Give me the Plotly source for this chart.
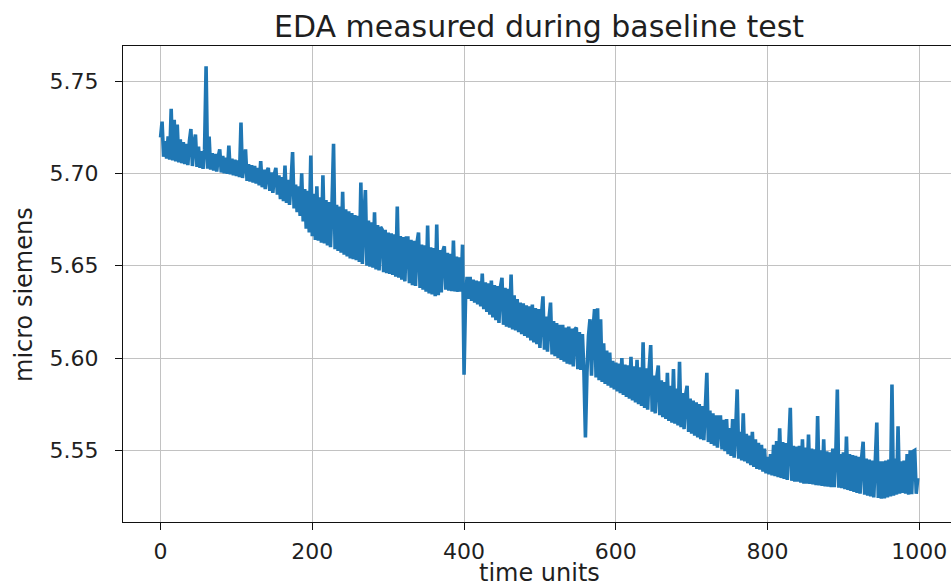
import plotly.graph_objects as go

# ---- data: EDA (micro siemens), one value every 2 time units ----
time_step = 2
eda_000 = [5.7195, 5.7280, 5.7090, 5.7175, 5.7080, 5.7200, 5.7075, 5.7350, 5.7070, 5.7290,
           5.7065, 5.7265, 5.7060, 5.7185, 5.7055, 5.7170, 5.7050, 5.7160, 5.7045, 5.7175,
           5.7240, 5.7040, 5.7165, 5.7210, 5.7035]
eda_050 = [5.7145, 5.7030, 5.7120, 5.7025, 5.7130, 5.7580, 5.7025, 5.7200, 5.7020, 5.7110,
           5.7015, 5.7105, 5.7010, 5.7090, 5.7130, 5.7005, 5.7095, 5.7000, 5.7085, 5.6998,
           5.7150, 5.6995, 5.7080, 5.6990, 5.7075]
eda_100 = [5.6985, 5.7070, 5.6980, 5.7275, 5.6975, 5.7060, 5.7130, 5.6960, 5.7050, 5.6955,
           5.7045, 5.6950, 5.7040, 5.6945, 5.7030, 5.6935, 5.7066, 5.6925, 5.7020, 5.6915,
           5.7010, 5.7030, 5.6905, 5.7005, 5.6895]
eda_150 = [5.6995, 5.7030, 5.6885, 5.6990, 5.6860, 5.6980, 5.6850, 5.7043, 5.6840, 5.6965,
           5.6830, 5.6955, 5.7115, 5.6810, 5.6940, 5.6790, 5.6930, 5.6770, 5.7000, 5.6740,
           5.6915, 5.6700, 5.6905, 5.6680, 5.7097]
eda_200 = [5.6660, 5.6890, 5.6640, 5.6930, 5.6635, 5.6870, 5.6625, 5.6990, 5.6620, 5.6855,
           5.6610, 5.6845, 5.6600, 5.6840, 5.7160, 5.6590, 5.6830, 5.6580, 5.6820, 5.6570,
           5.6900, 5.6560, 5.6805, 5.6550, 5.6795]
eda_250 = [5.6540, 5.6785, 5.6535, 5.6775, 5.6530, 5.6770, 5.6520, 5.6950, 5.6510, 5.6760,
           5.6910, 5.6500, 5.6745, 5.6495, 5.6735, 5.6490, 5.6790, 5.6480, 5.6720, 5.6475,
           5.6710, 5.6696, 5.6465, 5.6695, 5.6460]
eda_300 = [5.6680, 5.6455, 5.6675, 5.6450, 5.6670, 5.6440, 5.6820, 5.6435, 5.6660, 5.6425,
           5.6655, 5.6415, 5.6650, 5.6650, 5.6405, 5.6640, 5.6395, 5.6635, 5.6390, 5.6625,
           5.6680, 5.6380, 5.6615, 5.6370, 5.6610]
eda_350 = [5.6360, 5.6718, 5.6350, 5.6600, 5.6345, 5.6595, 5.6335, 5.6723, 5.6340, 5.6585,
           5.6355, 5.6580, 5.6605, 5.6370, 5.6570, 5.6365, 5.6565, 5.6362, 5.6636, 5.6360,
           5.6550, 5.6358, 5.6545, 5.6360, 5.6614]
eda_400 = [5.5910, 5.6330, 5.6440, 5.6320, 5.6440, 5.6310, 5.6425, 5.6300, 5.6420, 5.6290,
           5.6415, 5.6280, 5.6457, 5.6265, 5.6410, 5.6250, 5.6405, 5.6235, 5.6420, 5.6220,
           5.6395, 5.6205, 5.6390, 5.6190, 5.6385]
eda_450 = [5.6435, 5.6180, 5.6380, 5.6170, 5.6375, 5.6165, 5.6452, 5.6155, 5.6340, 5.6150,
           5.6320, 5.6140, 5.6300, 5.6130, 5.6296, 5.6120, 5.6285, 5.6110, 5.6280, 5.6095,
           5.6290, 5.6085, 5.6270, 5.6075, 5.6265]
eda_500 = [5.6055, 5.6230, 5.6334, 5.6045, 5.6225, 5.6035, 5.6215, 5.6300, 5.6020, 5.6200,
           5.6010, 5.6190, 5.6000, 5.6180, 5.5990, 5.6180, 5.5980, 5.6165, 5.5970, 5.6170,
           5.5965, 5.6160, 5.5955, 5.6155, 5.6165]
eda_550 = [5.5940, 5.6140, 5.5935, 5.6130, 5.5925, 5.5570, 5.5920, 5.6120, 5.6210, 5.5905,
           5.6150, 5.6265, 5.5895, 5.6270, 5.5880, 5.6210, 5.5870, 5.6080, 5.5860, 5.6040,
           5.5850, 5.6030, 5.5840, 5.5985, 5.5830]
eda_600 = [5.5975, 5.5820, 5.5970, 5.5810, 5.6000, 5.5800, 5.5965, 5.5790, 5.5960, 5.5780,
           5.6006, 5.5770, 5.5955, 5.5760, 5.5990, 5.5750, 5.5950, 5.5740, 5.6085, 5.5730,
           5.5945, 5.5720, 5.5940, 5.6070, 5.5710]
eda_650 = [5.5905, 5.5700, 5.5895, 5.5960, 5.5690, 5.5880, 5.5680, 5.5870, 5.5670, 5.5920,
           5.5660, 5.5850, 5.5650, 5.5940, 5.5645, 5.5835, 5.5635, 5.5980, 5.5625, 5.5810,
           5.5615, 5.5800, 5.5850, 5.5600, 5.5780]
eda_700 = [5.5590, 5.5770, 5.5580, 5.5760, 5.5570, 5.5750, 5.5560, 5.5740, 5.5555, 5.5730,
           5.5920, 5.5545, 5.5715, 5.5535, 5.5700, 5.5525, 5.5690, 5.5515, 5.5680, 5.5680,
           5.5505, 5.5665, 5.5495, 5.5670, 5.5480]
eda_750 = [5.5620, 5.5470, 5.5670, 5.5460, 5.5610, 5.5830, 5.5455, 5.5600, 5.5445, 5.5700,
           5.5440, 5.5590, 5.5430, 5.5580, 5.5420, 5.5600, 5.5410, 5.5560, 5.5400, 5.5540,
           5.5395, 5.5530, 5.5385, 5.5510, 5.5375]
eda_800 = [5.5465, 5.5370, 5.5480, 5.5365, 5.5530, 5.5360, 5.5550, 5.5355, 5.5620, 5.5350,
           5.5545, 5.5345, 5.5540, 5.5340, 5.5530, 5.5730, 5.5335, 5.5525, 5.5330, 5.5520,
           5.5330, 5.5525, 5.5325, 5.5560, 5.5320]
eda_850 = [5.5515, 5.5320, 5.5585, 5.5318, 5.5510, 5.5315, 5.5505, 5.5312, 5.5686, 5.5310,
           5.5500, 5.5308, 5.5560, 5.5305, 5.5495, 5.5303, 5.5490, 5.5300, 5.5510, 5.5300,
           5.5485, 5.5830, 5.5298, 5.5480, 5.5295]
eda_900 = [5.5490, 5.5290, 5.5575, 5.5285, 5.5480, 5.5280, 5.5475, 5.5275, 5.5470, 5.5270,
           5.5465, 5.5265, 5.5460, 5.5547, 5.5260, 5.5455, 5.5255, 5.5450, 5.5250, 5.5445,
           5.5245, 5.5440, 5.5650, 5.5242, 5.5440]
eda_950 = [5.5238, 5.5440, 5.5240, 5.5445, 5.5245, 5.5450, 5.5250, 5.5856, 5.5255, 5.5455,
           5.5260, 5.5630, 5.5265, 5.5440, 5.5270, 5.5445, 5.5265, 5.5480, 5.5260, 5.5500,
           5.5262, 5.5495, 5.5500, 5.5265, 5.5350]

eda_values = (eda_000 + eda_050 + eda_100 + eda_150 + eda_200 + eda_250 + eda_300 +
              eda_350 + eda_400 + eda_450 + eda_500 + eda_550 + eda_600 + eda_650 +
              eda_700 + eda_750 + eda_800 + eda_850 + eda_900 + eda_950)
time_units = [i * time_step for i in range(len(eda_values))]

x_ticks = [0, 200, 400, 600, 800, 1000]
y_ticks = [5.55, 5.60, 5.65, 5.70, 5.75]
y_tick_labels = ["5.55", "5.60", "5.65", "5.70", "5.75"]

title_text = "EDA measured during baseline test"
x_label = "time units"
y_label = "micro siemens"

# ---- figure ----
W, H = 951, 588
L, R, T, B = 123, 0, 46, 66
FONT = "DejaVu Sans"
TXT = "#1f1f1f"

fig = go.Figure()
fig.add_trace(go.Scatter(
    x=time_units, y=eda_values, mode="lines",
    line=dict(color="#1f77b4", width=3.6, simplify=False),
    showlegend=False, hoverinfo="skip",
))

plot_w = W - L - R
plot_h = H - T - B


def px_to_paper_x(px):
    return (px - L) / plot_w


def px_to_paper_y(py):
    return (H - B - py) / plot_h


fig.update_layout(
    width=W, height=H,
    margin=dict(l=L, r=R, t=T, b=B, autoexpand=False),
    paper_bgcolor="white", plot_bgcolor="white",
    font=dict(family=FONT, color=TXT),
    title=dict(text=title_text, font=dict(size=30, family=FONT, color=TXT),
               xref="paper", x=px_to_paper_x(539), xanchor="center",
               yref="container", y=1 - 26 / H, yanchor="middle"),
    xaxis=dict(range=[-49.5, 1041.8], tickvals=x_ticks,
               ticktext=[str(v) for v in x_ticks],
               showgrid=True, gridcolor="#c2c2c2", gridwidth=1.3,
               zeroline=False, showline=True, linecolor="#111", linewidth=1.4,
               mirror=True, ticks="outside", ticklen=7, tickwidth=1.3,
               tickcolor="#111", tickfont=dict(size=22, family=FONT, color=TXT),
               ticklabelstandoff=2),
    yaxis=dict(range=[5.5112, 5.769], tickvals=y_ticks, ticktext=y_tick_labels,
               showgrid=True, gridcolor="#c2c2c2", gridwidth=1.3,
               zeroline=False, showline=True, linecolor="#111", linewidth=1.4,
               mirror=False, ticks="outside", ticklen=7, tickwidth=1.3,
               tickcolor="#111", tickfont=dict(size=22, family=FONT, color=TXT),
               ticklabelstandoff=12),
    annotations=[
        dict(text=x_label, xref="paper", yref="paper",
             x=px_to_paper_x(539), y=px_to_paper_y(573),
             xanchor="center", yanchor="middle", showarrow=False,
             font=dict(size=24, family=FONT, color=TXT)),
        dict(text=y_label, xref="paper", yref="paper", textangle=-90,
             x=px_to_paper_x(24), y=px_to_paper_y(295),
             xanchor="center", yanchor="middle", showarrow=False,
             font=dict(size=24, family=FONT, color=TXT)),
    ],
)

fig.write_html("out.html")
